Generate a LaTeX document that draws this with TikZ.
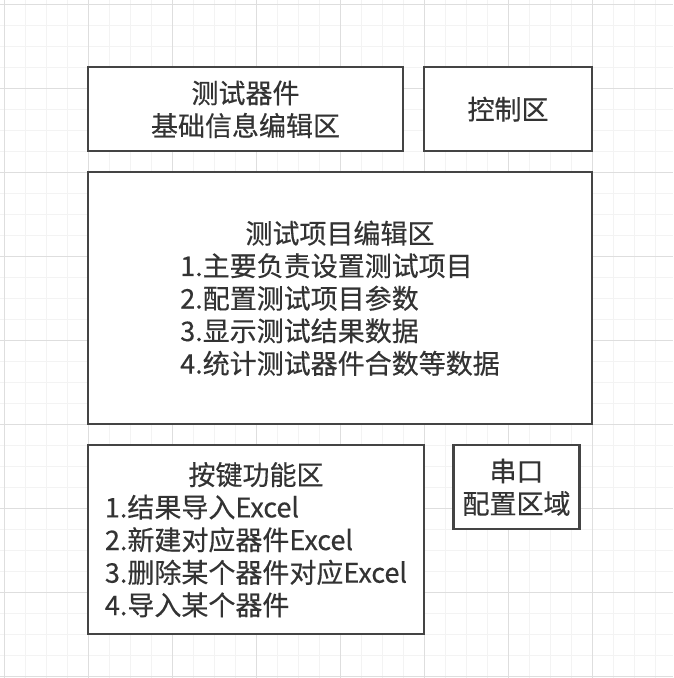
\documentclass[tikz,border=0pt]{standalone}
\usepackage{fontspec}
\newfontfamily\cjk[FakeBold=0.4]{Noto Sans CJK SC}
\usetikzlibrary{positioning}

\definecolor{minorgrid}{RGB}{243,243,243}
\definecolor{majorgrid}{RGB}{222,222,222}
\definecolor{edgegray}{RGB}{68,68,68}
\definecolor{textgray}{RGB}{51,51,51}

% lowered text blocks
\newcommand\boxtext[1]{\raisebox{-4pt}[\height][\depth]{\begin{tabular}{@{}c@{}}#1\end{tabular}}}
\newcommand\boxlist[2]{\raisebox{-4pt}[\height][\depth]{\begin{tabular}{@{}l@{}}\multicolumn{1}{@{}c@{}}{#1}\\#2\end{tabular}}}

\tikzset{
  area/.style={draw=edgegray, line width=2.6pt, fill=white, shape=rectangle,
    inner sep=0pt, align=center, text=textgray,
    font=\cjk\fontsize{27}{32.5}\selectfont},
  minorline/.style={draw=minorgrid, line width=1pt},
  majorline/.style={draw=majorgrid, line width=1pt}
}

\begin{document}
\begin{tikzpicture}[x=1pt, y=-1pt]
  \useasboundingbox (0,0) rectangle (673,678);

  % grid
  \foreach \i in {0,...,32} {
    \draw[minorline] ({4+21*\i},0) -- ({4+21*\i},678);
    \draw[minorline] (0,{4+21*\i}) -- (673,{4+21*\i});
  }
  \foreach \i in {0,...,8} {
    \draw[majorline] ({4+84*\i},0) -- ({4+84*\i},678);
    \draw[majorline] (0,{4+84*\i}) -- (673,{4+84*\i});
  }

  % areas
  \node[area, minimum width=315pt, minimum height=84pt] (info) at (245.5,109)
    {\boxtext{测试器件\\基础信息编辑区}};
  \node[area, minimum width=168pt, minimum height=84pt] (ctrl) at (508,109)
    {\boxtext{控制区}};
  \node[area, minimum width=504pt, minimum height=252pt] (items) at (340,298)
    {\boxlist{测试项目编辑区}{
      1.主要负责设置测试项目\\
      2.配置测试项目参数\\
      3.显示测试结果数据\\
      4.统计测试器件合数等数据}};
  \node[area, minimum width=336pt, minimum height=189pt] (keys) at (256,539.5)
    {\boxlist{按键功能区}{
      1.结果导入Excel\\
      2.新建对应器件Excel\\
      3.删除某个器件对应Excel\\
      4.导入某个器件}};
  \node[area, minimum width=126pt, minimum height=84pt] (port) at (516.5,487)
    {\boxtext{串口\\配置区域}};
\end{tikzpicture}
\end{document}
